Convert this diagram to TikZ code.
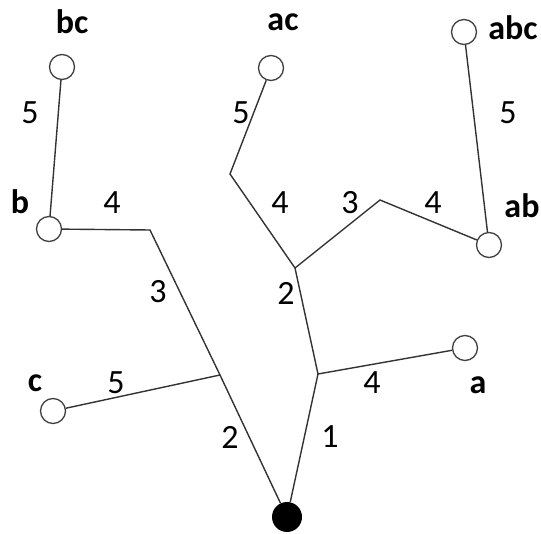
\documentclass[tikz,border=0pt]{standalone}
\usepackage{fontspec}
\setmainfont{Carlito}
\begin{document}
\begin{tikzpicture}[x=1pt,y=-1pt,
  edge/.style={draw=black!80,line width=1.4pt},
  leaf/.style={circle,draw=black!75,line width=1.3pt,fill=white,minimum size=25pt,inner sep=0pt},
  rootnode/.style={circle,fill=black,minimum size=30pt,inner sep=0pt},
  num/.style={inner sep=0pt,font=\fontsize{34}{34}\selectfont},
  nm/.style={inner sep=0pt,font=\fontsize{34}{34}\selectfont\bfseries}]
\useasboundingbox (0,0) rectangle (541,534);
% junctions and bends
\coordinate (J1) at (220,375);
\coordinate (BL) at (150,230);
\coordinate (J2) at (318,374);
\coordinate (J3) at (295,268);
\coordinate (BAC) at (230,174);
\coordinate (BAB) at (380,200);
% nodes
\node[rootnode] (root) at (287,517) {};
\node[leaf] (b) at (49,229) {};
\node[leaf] (bc) at (62,67) {};
\node[leaf] (c) at (53,411) {};
\node[leaf] (ac) at (271,68) {};
\node[leaf] (ab) at (489,245) {};
\node[leaf] (abc) at (464,32) {};
\node[leaf] (a) at (465,348) {};
% edges
\draw[edge] (root) -- (J1) -- (BL) -- (b);
\draw[edge] (c) -- (J1);
\draw[edge] (b) -- (bc);
\draw[edge] (root) -- (J2) -- (J3) -- (BAC) -- (ac);
\draw[edge] (J3) -- (BAB) -- (ab);
\draw[edge] (ab) -- (abc);
\draw[edge] (J2) -- (a);
% names
\node[nm] (tbc) at (72,22) {bc};
\node[nm] (tb) at (20,202) {b};
\node[nm] (tac) at (283,22) {ac};
\node[nm] (tabc) at (513,28) {abc};
\node[nm] (tab) at (522,206) {ab};
\node[nm] (tc) at (35,383) {c};
\node[nm] (ta) at (478,385) {a};
% weights
\node[num] (w1) at (30,113) {5};
\node[num] (w2) at (112,203) {4};
\node[num] (w3) at (241,113) {5};
\node[num] (w4) at (280,203) {4};
\node[num] (w5) at (350,203) {3};
\node[num] (w6) at (433,203) {4};
\node[num] (w7) at (508,113) {5};
\node[num] (w8) at (158,292) {3};
\node[num] (w9) at (286,293) {2};
\node[num] (w10) at (116,383) {5};
\node[num] (w11) at (372,383) {4};
\node[num] (w12) at (230,437) {2};
\node[num] (w13) at (330,437) {1};
\end{tikzpicture}
\end{document}
